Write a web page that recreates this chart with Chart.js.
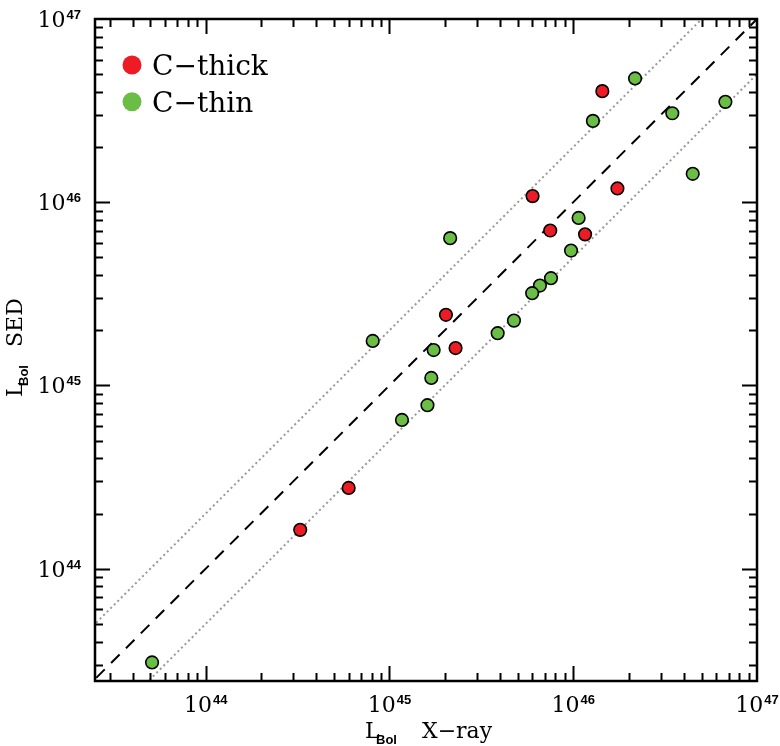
<!DOCTYPE html>
<html>
<head>
<meta charset="utf-8">
<script src="https://cdn.jsdelivr.net/npm/chart.js@4.4.0/dist/chart.umd.min.js"></script>
<style>
  body { margin: 0; background: #fff; }
  #wrap { width: 780px; height: 746px; }
</style>
</head>
<body>
<div id="wrap"><canvas id="lumChart" width="780" height="746"></canvas></div>
<script>
// C-thick sources : L_Bol X-ray / L_Bol SED
const thickX = [1.44e46, 6.01e45, 1.74e46, 7.50e45, 1.16e46, 2.03e45, 2.29e45, 6.0e44, 3.27e44];
const thickY = [4.04e46, 1.08e46, 1.19e46, 7.01e45, 6.68e45, 2.43e45, 1.60e45, 2.76e44, 1.63e44];
// C-thin sources
const thinX = [2.17e46, 1.28e46, 3.46e46, 6.73e46, 4.47e46, 1.07e46, 2.14e45, 9.73e45, 7.57e45, 6.59e45,
               5.98e45, 4.76e45, 3.88e45, 8.11e44, 1.74e45, 1.69e45, 1.61e45, 1.17e45, 5.11e43];
const thinY = [4.74e46, 2.78e46, 3.06e46, 3.53e46, 1.43e46, 8.21e45, 6.37e45, 5.45e45, 3.85e45, 3.51e45,
               3.19e45, 2.26e45, 1.93e45, 1.75e45, 1.56e45, 1.10e45, 7.81e44, 6.49e44, 3.08e43];
// axes
const xMin = 2.5e43, xMax = 1e47;
const yMin = 2.44e43, yMax = 1e47;
const decadeExps = [44, 45, 46, 47];
// reference lines : 1:1 (dashed) and factor 2 either side (dotted)
const ratioMain = 1;
const ratioSide = [2, 0.5];
const lineEnds = [1e43, 1e48];

const RED = '#ed1c24';
const GREEN = '#6abd45';

function toPoints(xs, ys) {
    return xs.map((x, i) => ({ x: x, y: ys[i] }));
}
function ratioLine(f) {
    return lineEnds.map(x => ({ x: x, y: x * f }));
}

// cadre, graduations vers l'intérieur, libellés, légende
const framePlugin = {
    id: 'frameTicks',
    afterDraw(chart) {
        const ctx = chart.ctx;
        const a = chart.chartArea;
        const sx = chart.scales.x, sy = chart.scales.y;
        ctx.save();
        ctx.strokeStyle = '#000';
        ctx.lineWidth = 2;
        ctx.lineCap = 'butt';

        // graduations
        for (let e = 43; e <= 46; e++) {
            for (let k = 1; k <= 9; k++) {
                const v = k * Math.pow(10, e);
                const len = k === 1 ? 15 : 8;
                if (v >= xMin && v <= xMax) {
                    const px = Math.round(sx.getPixelForValue(v)) + 0.5;
                    ctx.beginPath();
                    ctx.moveTo(px, a.bottom); ctx.lineTo(px, a.bottom - len);
                    ctx.moveTo(px, a.top); ctx.lineTo(px, a.top + len);
                    ctx.stroke();
                }
                if (v >= yMin && v <= yMax) {
                    const py = Math.round(sy.getPixelForValue(v)) + 0.5;
                    ctx.beginPath();
                    ctx.moveTo(a.left, py); ctx.lineTo(a.left + len, py);
                    ctx.moveTo(a.right, py); ctx.lineTo(a.right - len, py);
                    ctx.stroke();
                }
            }
        }

        // cadre
        ctx.lineWidth = 2.5;
        ctx.strokeRect(a.left, a.top, a.right - a.left, a.bottom - a.top);

        // libellés 10^n
        const baseFont = '22px "DejaVu Serif"';
        const supFont = 'bold 13px "Liberation Sans"';
        ctx.fillStyle = '#000';
        ctx.textBaseline = 'alphabetic';
        function powWidth(exp) {
            ctx.font = baseFont;
            const w1 = ctx.measureText('10').width;
            ctx.font = supFont;
            const w2 = ctx.measureText(String(exp)).width;
            return [w1, w2];
        }
        function drawPow(x, y, exp) {
            const [w1] = powWidth(exp);
            ctx.font = baseFont;
            ctx.textAlign = 'left';
            ctx.fillText('10', x, y);
            ctx.font = supFont;
            ctx.fillText(String(exp), x + w1 + 1, y - 8);
        }
        decadeExps.forEach(e => {
            const v = Math.pow(10, e);
            const [w1, w2] = powWidth(e);
            const tot = w1 + 1 + w2;
            const px = sx.getPixelForValue(v);
            drawPow(px - tot / 2, a.bottom + 31, e);
            const py = sy.getPixelForValue(v);
            drawPow(a.left - 14 - tot, py + 8, e);
        });

        // titres des axes
        function drawTitle(x, y) {
            ctx.textAlign = 'left';
            ctx.font = '22px "DejaVu Serif"';
            ctx.fillText('L', x, y);
            ctx.font = 'bold 13px "Liberation Sans"';
            ctx.fillText('Bol', x + 11, y + 6);
        }
        const cx = (a.left + a.right) / 2;
        const tx = cx - 61;
        drawTitle(tx, a.bottom + 57);
        ctx.font = '22px "DejaVu Serif"';
        ctx.fillText('X\u2212ray', tx + 57, a.bottom + 57);

        const cy = (a.top + a.bottom) / 2;
        ctx.save();
        ctx.translate(22, cy + 47);
        ctx.rotate(-Math.PI / 2);
        drawTitle(0, 0);
        ctx.font = '22px "DejaVu Serif"';
        ctx.fillText('SED', 50, 0);
        ctx.restore();

        // légende
        const legend = [['C\u2212thick', RED], ['C\u2212thin', GREEN]];
        legend.forEach((item, i) => {
            const ly = a.top + 46 + i * 36.7;
            ctx.beginPath();
            ctx.fillStyle = item[1];
            ctx.arc(a.left + 37, ly, 9.5, 0, Math.PI * 2);
            ctx.fill();
            ctx.fillStyle = '#000';
            ctx.font = '28px "DejaVu Serif"';
            ctx.textAlign = 'left';
            ctx.fillText(item[0], a.left + 57, ly + 10);
        });
        ctx.restore();
    }
};

const ctx = document.getElementById('lumChart').getContext('2d');
new Chart(ctx, {
    type: 'scatter',
    data: {
        datasets: [
            {
                label: 'C-thick',
                data: toPoints(thickX, thickY),
                backgroundColor: RED,
                borderColor: '#000',
                borderWidth: 1.6,
                pointRadius: 6.3,
                order: 0
            },
            {
                label: 'C-thin',
                data: toPoints(thinX, thinY),
                backgroundColor: GREEN,
                borderColor: '#000',
                borderWidth: 1.6,
                pointRadius: 6.3,
                order: 1
            },
            {
                type: 'line',
                label: '1:1',
                data: ratioLine(ratioMain),
                borderColor: '#000',
                borderWidth: 2,
                borderDash: [12, 9],
                pointRadius: 0,
                fill: false,
                order: 2
            },
            ...ratioSide.map(f => ({
                type: 'line',
                label: 'x' + f,
                data: ratioLine(f),
                borderColor: '#999',
                borderWidth: 2,
                borderDash: [2, 3],
                pointRadius: 0,
                fill: false,
                order: 3
            }))
        ]
    },
    options: {
        responsive: false,
        animation: false,
        events: [],
        layout: { padding: { left: 95, right: 23, top: 19, bottom: 65 } },
        plugins: {
            legend: { display: false },
            tooltip: { enabled: false }
        },
        scales: {
            x: { type: 'logarithmic', min: xMin, max: xMax, display: false },
            y: { type: 'logarithmic', min: yMin, max: yMax, display: false }
        }
    },
    plugins: [framePlugin]
});
</script>
</body>
</html>
